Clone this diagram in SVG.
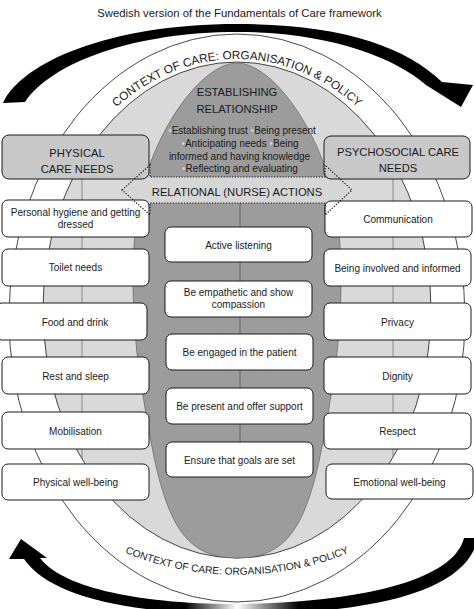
<svg xmlns="http://www.w3.org/2000/svg" width="474" height="609" viewBox="0 0 474 609">
<defs>
<style>
.box{fill:#fff;stroke:#1a1a1a;stroke-width:1}
.hdr{fill:#c8c8c8;stroke:#1a1a1a;stroke-width:1}
.t{font-family:"Liberation Sans",Arial,sans-serif;font-size:10px;fill:#1a1a1a;text-anchor:middle}
.h{font-size:11.2px}
.b{fill:#d4d4d4}
.ctx{font-family:"Liberation Sans",Arial,sans-serif;fill:#1a1a1a}
.ln{fill:none;stroke:#777;stroke-width:0.8}
</style>
<linearGradient id="bg" gradientUnits="userSpaceOnUse" x1="0" y1="0" x2="474" y2="0">
<stop offset="0" stop-color="#000"/>
<stop offset="0.39" stop-color="#000"/>
<stop offset="0.5" stop-color="#fff"/>
<stop offset="0.63" stop-color="#000"/>
<stop offset="1" stop-color="#000"/>
</linearGradient>
<path id="topArc" d="M30,316 A207,257 0 0 1 444,316"/>
<path id="botArc" d="M80,530 A298,298 0 0 0 394,530"/>
</defs>
<rect width="474" height="609" fill="#fff"/>
<text class="t" x="239.5" y="17" style="font-size:11.3px">Swedish version of the Fundamentals of Care framework</text>

<g id="cycle-arrows">
<path d="M3,103 C22,62 110,24 237,24 C340,24 405,46 442,82 L473,85 L461,107 L426,85 C395,58 330,32 237,32 C135,32 52,62 25,102 Z" fill="#000"/>
<path d="M476,538 L464,538 C455,575 380,602 237,604 C130,604 60,585 40,558 L47,558 L21,539 L9,559 L24,559 C50,597 130,614 237,614 C380,614 460,590 476,545 Z" fill="url(#bg)"/>
</g>

<g id="context-ring">
<ellipse cx="237" cy="318" rx="228" ry="284" fill="#fff" stroke="#1a1a1a" stroke-width="0.8"/>
<ellipse cx="237" cy="310" rx="194" ry="248" fill="#d9d9d9" stroke="#1a1a1a" stroke-width="0.8"/>
<text class="ctx" style="font-size:11.8px"><textPath href="#topArc" startOffset="50%" text-anchor="middle">CONTEXT OF CARE: ORGANISATION &amp; POLICY</textPath></text>
<text class="ctx" style="font-size:10.2px"><textPath href="#botArc" startOffset="50%" text-anchor="middle">CONTEXT OF CARE: ORGANISATION &amp; POLICY</textPath></text>
</g>

<g id="guides">
<line class="ln" x1="82" y1="161" x2="82" y2="459"/>
<line class="ln" x1="393" y1="163" x2="393" y2="457"/>
</g>

<g id="establishing-relationship">
<path d="M237,63 C205,63 160,120 142,190 C128,245 132,330 142,390 C152,450 160,500 180,530 C195,552 215,558 237,558 C259,558 279,552 294,530 C314,500 322,450 332,390 C342,330 346,245 332,190 C314,120 269,63 237,63 Z" fill="#9c9c9c" stroke="#555" stroke-width="0.6"/>
<line x1="240" y1="203" x2="240" y2="442" stroke="#555" stroke-width="0.8"/>
<text class="t h" x="237" y="96">ESTABLISHING</text>
<text class="t h" x="237" y="112.5">RELATIONSHIP</text>
<text class="t" x="242" y="134"><tspan class="b">•</tspan>Establishing trust <tspan class="b">•</tspan>Being present</text>
<text class="t" x="240" y="147"><tspan class="b">•</tspan>Anticipating needs <tspan class="b">•</tspan>Being</text>
<text class="t" x="239.5" y="159.5">informed and having knowledge</text>
<text class="t" x="240" y="172"><tspan class="b">•</tspan>Reflecting and evaluating</text>
</g>

<g id="relational-actions">
<polygon points="122,190 150,165 150,177 325,177 325,165 352,190 325,215 325,203 150,203 150,215" fill="#d6d6d6"/>
</g>

<g id="physical-care-needs">
<rect class="hdr" x="2" y="135" width="147" height="44" rx="7"/>
<text class="t h" x="77" y="157">PHYSICAL</text>
<text class="t h" x="77" y="173">CARE NEEDS</text>
</g>
<g id="psychosocial-care-needs">
<rect class="hdr" x="324" y="136" width="146" height="43" rx="7"/>
<text class="t h" x="398" y="156">PSYCHOSOCIAL CARE</text>
<text class="t h" x="398" y="172">NEEDS</text>
</g>

<g id="personal-hygiene"><rect class="box" x="2" y="200" width="147" height="37" rx="6"/><text class="t" x="75.5" y="215.5">Personal hygiene and getting</text><text class="t" x="75.5" y="228">dressed</text></g>
<g id="toilet-needs"><rect class="box" x="2" y="249" width="147" height="37" rx="6"/><text class="t" x="75.5" y="271">Toilet needs</text></g>
<g id="food-drink"><rect class="box" x="-4" y="303" width="151" height="37" rx="6"/><text class="t" x="75" y="325.5">Food and drink</text></g>
<g id="rest-sleep"><rect class="box" x="2" y="357" width="147" height="37" rx="6"/><text class="t" x="75.5" y="379.5">Rest and sleep</text></g>
<g id="mobilisation"><rect class="box" x="2" y="412" width="147" height="37" rx="6"/><text class="t" x="75.5" y="434.5">Mobilisation</text></g>
<g id="physical-wellbeing"><rect class="box" x="2" y="464" width="147" height="36" rx="6"/><text class="t" x="75.5" y="486">Physical well-being</text></g>

<g id="communication"><rect class="box" x="325" y="201" width="147" height="36" rx="6"/><text class="t" x="398" y="223">Communication</text></g>
<g id="involved-informed"><rect class="box" x="324" y="249" width="147" height="37" rx="6"/><text class="t" x="397.5" y="271.5">Being involved and informed</text></g>
<g id="privacy"><rect class="box" x="324" y="303" width="147" height="37" rx="6"/><text class="t" x="397.5" y="325.5">Privacy</text></g>
<g id="dignity"><rect class="box" x="324" y="357" width="147" height="37" rx="6"/><text class="t" x="397.5" y="379.5">Dignity</text></g>
<g id="respect"><rect class="box" x="324" y="413" width="147" height="36" rx="6"/><text class="t" x="397.5" y="435">Respect</text></g>
<g id="emotional-wellbeing"><rect class="box" x="326" y="464" width="147" height="35" rx="6"/><text class="t" x="399.5" y="485.5">Emotional well-being</text></g>

<g id="active-listening"><rect class="box" x="165" y="227" width="147" height="35" rx="6"/><text class="t" x="238.5" y="248.5">Active listening</text></g>
<g id="empathetic"><rect class="box" x="165" y="281" width="147" height="36" rx="6"/><text class="t" x="238.5" y="296">Be empathetic and show</text><text class="t" x="238.5" y="308">compassion</text></g>
<g id="engaged"><rect class="box" x="166" y="334" width="147" height="36" rx="6"/><text class="t" x="239.5" y="356">Be engaged in the patient</text></g>
<g id="present-support"><rect class="box" x="166" y="388" width="147" height="36" rx="6"/><text class="t" x="239.5" y="410">Be present and offer support</text></g>
<g id="goals-set"><rect class="box" x="166" y="442" width="147" height="35" rx="6"/><text class="t" x="239.5" y="463.5">Ensure that goals are set</text></g>

<g id="relational-actions-label">
<polygon points="122,190 150,165 150,177 325,177 325,165 352,190 325,215 325,203 150,203 150,215" fill="none" stroke="#111" stroke-width="1.2" stroke-dasharray="1.2 1.6"/>
<text class="t h" x="237" y="195.5">RELATIONAL (NURSE) ACTIONS</text>
</g>
</svg>
